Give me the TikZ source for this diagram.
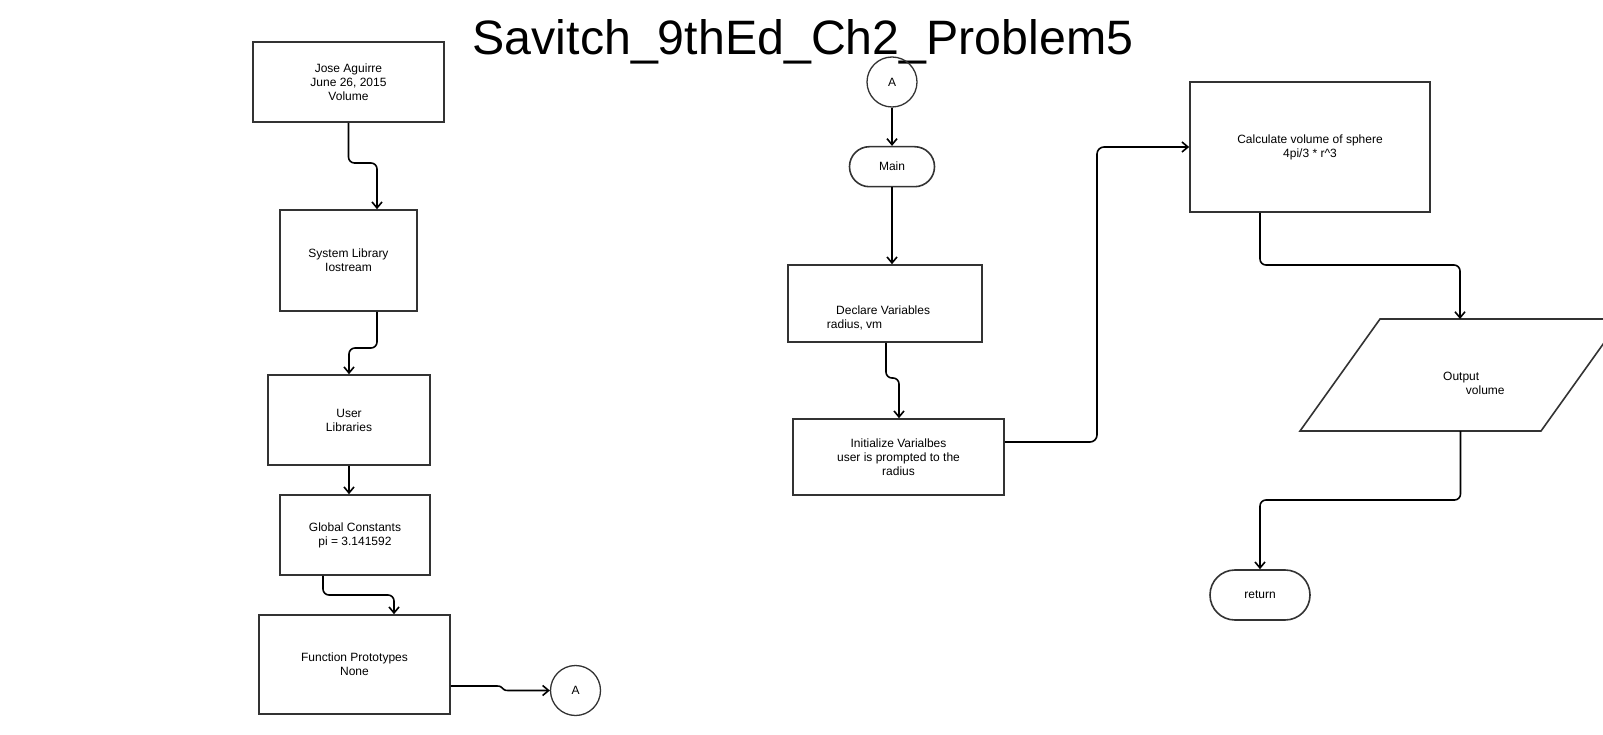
\documentclass[tikz,border=0pt]{standalone}
\usepackage{fontspec}
\setmainfont{Liberation Sans}
\usetikzlibrary{arrows.meta}
\definecolor{boxc}{HTML}{333333}
\begin{document}
\begin{tikzpicture}[x=1pt,y=-1pt,
  box/.style={draw=boxc, line width=1.6pt, rectangle, inner sep=0pt, align=center,
    font=\fontsize{12}{14}\selectfont},
  term/.style={box},
  conncirc/.style={draw=boxc, line width=1.3pt, circle, minimum size=50pt, inner sep=0pt,
    font=\fontsize{12}{14}\selectfont},
  txt/.style={inner sep=0pt, font=\fontsize{12}{14}\selectfont},
  arr/.style={line width=1.6pt, -{Straight Barb[length=6pt,width=10pt,line width=1.6pt]},
    rounded corners=6pt},
]
\clip (0,0) rectangle (1603,735);
\fill[white] (0,0) rectangle (1603,735);

% title
\node[inner sep=0pt, anchor=base, font=\fontsize{48.3}{58}\selectfont] (title) at (803,55) {Savitch\_9thEd\_Ch2\_Problem5};

% left column
\node[box, minimum width=191pt, minimum height=80pt] (b1) at (348.5,82) {Jose Aguirre\\June 26, 2015\\Volume};
\node[box, minimum width=137pt, minimum height=101pt] (b2) at (348.5,260.5) {System Library\\Iostream};
\node[box, minimum width=162pt, minimum height=90pt] (b3) at (349,420) {User\\Libraries};
\node[box, minimum width=150pt, minimum height=80pt] (b4) at (355,535) {Global Constants\\pi = 3.141592};
\node[box, minimum width=191pt, minimum height=99pt] (b5) at (354.5,664.5) {Function Prototypes\\None};
\node[conncirc] (cA1) at (575.5,690.5) {A};

% middle column
\node[conncirc] (cA2) at (892,82) {A};
\node[term, minimum width=85pt, minimum height=40pt, rounded corners=19.9pt] (main) at (892,166.7) {Main};
\node[box, minimum width=194pt, minimum height=77pt] (decl) at (885,303.5) {};
\node[txt, anchor=west, align=left] (decltext) at (826.7,318) {\hspace*{9.3pt}Declare Variables\\radius, vm};
\node[box, minimum width=211pt, minimum height=76pt] (init) at (898.5,457) {Initialize Varialbes\\user is prompted to the\\radius};

% right column
\node[box, minimum width=240pt, minimum height=130pt] (calc) at (1310,147) {Calculate volume of sphere\\4pi/3 * r\^{}3};
\draw[draw=boxc, line width=1.6pt, line join=miter] (1380,319) -- (1621,319) -- (1541,431) -- (1300,431) -- cycle;
\coordinate (outtop) at (1460,319);
\coordinate (outbot) at (1460.5,431);
\node[txt, anchor=west, align=left] (outtext) at (1443,383) {Output\\\hspace*{22.7pt}volume};
\node[term, minimum width=100pt, minimum height=50pt, rounded corners=24.9pt] (ret) at (1260,595) {return};

% connectors
\draw[arr] (b1.south) -- (b1.south |- 0,163) -| (b2.north -| 377,0);
\draw[arr] (b2.south -| 377,0) -- (377,348) -| (b3.north -| 349,0);
\draw[arr] (b3.south) -- (b4.north -| b3.south);
\draw[arr] (b4.south -| 323,0) -- (323,595) -| (b5.north -| 394,0);
\draw[arr, rounded corners=0pt] (b5.east |- 0,686) -- (497,686) .. controls (504,686) and (501,690.5) .. (508,690.5) -- (cA1.west);
\draw[arr] (cA2.south) -- (main.north);
\draw[arr] (main.south) -- (decl.north -| main.south);
\draw[arr] (decl.south -| 886,0) -- (886,378) -| (init.north -| 899,0);
\draw[arr, rounded corners=7pt] (init.east |- 0,442) -- (1097,442) |- (calc.west);
\draw[arr] (calc.south -| 1260,0) -- (1260,265) -| (outtop);
\draw[arr] (outbot) -- (1460.5,500) -| (ret.north);
\end{tikzpicture}
\end{document}
